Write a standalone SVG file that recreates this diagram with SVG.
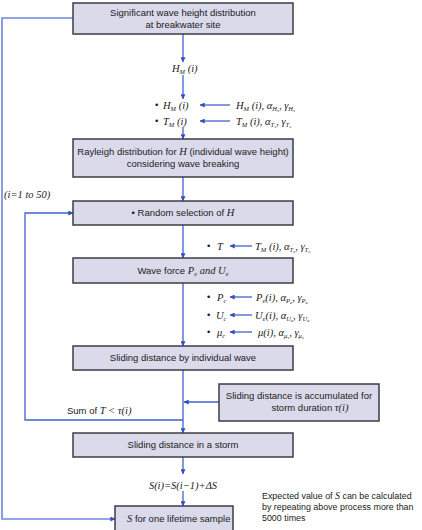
<svg xmlns="http://www.w3.org/2000/svg" width="422" height="530" viewBox="0 0 422 530">
<style>
.box{fill:#dadaeb;stroke:#3c3c44;stroke-width:1.5}
.t{font-family:"Liberation Sans",Arial,sans-serif;font-size:9.5px;fill:#1a1a1a}
.n{font-family:"Liberation Sans",Arial,sans-serif;font-size:8.9px;fill:#1a1a1a}
.m{font-family:"Liberation Serif","Times New Roman",serif;font-style:italic;font-size:10.5px;fill:#1a1a1a}
.s{font-size:6.5px}
.ss{font-size:5px}
.ln{fill:none;stroke:#3f63d0;stroke-width:1.3}
.lo{fill:none;stroke:#6d86e0;stroke-width:1.6}
</style>
<defs>
<marker id="ah" viewBox="0 0 8 8" refX="7.5" refY="4" markerWidth="5" markerHeight="5" orient="auto" markerUnits="userSpaceOnUse">
<path d="M0,0 L8,4 L0,8 z" fill="#3050c0"/>
</marker>
</defs>
<rect width="422" height="530" fill="#ffffff"/>
<g id="connectors">
<path class="ln" d="M183,34 V62" marker-end="url(#ah)"/>
<path class="ln" d="M183,75 V99" marker-end="url(#ah)"/>
<path class="ln" d="M230,105 H200" marker-end="url(#ah)"/>
<path class="ln" d="M230,121 H200" marker-end="url(#ah)"/>
<path class="ln" d="M183,127 V139" marker-end="url(#ah)"/>
<path class="ln" d="M183,177 V201" marker-end="url(#ah)"/>
<path class="ln" d="M183,225 V258" marker-end="url(#ah)"/>
<path class="ln" d="M252,246 H230" marker-end="url(#ah)"/>
<path class="ln" d="M183,283 V346" marker-end="url(#ah)"/>
<path class="ln" d="M252,297 H230" marker-end="url(#ah)"/>
<path class="ln" d="M252,315 H230" marker-end="url(#ah)"/>
<path class="ln" d="M252,332 H230" marker-end="url(#ah)"/>
<path class="ln" d="M183,370 V433" marker-end="url(#ah)"/>
<path class="ln" d="M219,402 H184" marker-end="url(#ah)"/>
<path class="ln" d="M183,420 H25 V213 H73" marker-end="url(#ah)"/>
<path class="ln" d="M183,457 V474" marker-end="url(#ah)"/>
<path class="ln" d="M183,491 V506" marker-end="url(#ah)"/>
<path class="lo" d="M73,18 H2 V519 H115" marker-end="url(#ah)"/>
</g>
<g id="n1">
<rect class="box" x="73" y="3" width="220" height="31"/>
<text class="t" x="183" y="16" text-anchor="middle">Significant wave height distribution</text>
<text class="t" x="183" y="28" text-anchor="middle">at breakwater site</text>
</g>
<g id="hm">
<text class="m" x="172" y="72">H<tspan class="s" dy="2">M</tspan><tspan dy="-2"> (i)</tspan></text>
</g>
<g id="p1">
<text class="t" x="155" y="108">•</text>
<text class="m" x="163" y="109">H<tspan class="s" dy="2">M</tspan><tspan dy="-2"> (i)</tspan></text>
<text class="m" x="236" y="109">H<tspan class="s" dy="2">M</tspan><tspan dy="-2"> (i), α</tspan><tspan class="s" dy="2">H<tspan class="ss" dy="1">s</tspan></tspan><tspan dy="-3">, γ</tspan><tspan class="s" dy="2">H<tspan class="ss" dy="1">s</tspan></tspan></text>
</g>
<g id="p2">
<text class="t" x="155" y="124">•</text>
<text class="m" x="163" y="125">T<tspan class="s" dy="2">M</tspan><tspan dy="-2"> (i)</tspan></text>
<text class="m" x="236" y="125">T<tspan class="s" dy="2">M</tspan><tspan dy="-2"> (i), α</tspan><tspan class="s" dy="2">T<tspan class="ss" dy="1">s</tspan></tspan><tspan dy="-3">, γ</tspan><tspan class="s" dy="2">T<tspan class="ss" dy="1">s</tspan></tspan></text>
</g>
<g id="n2">
<rect class="box" x="73" y="139" width="220" height="38"/>
<text class="t" x="183" y="155" text-anchor="middle">Rayleigh distribution for <tspan class="m">H</tspan>  (individual wave height)</text>
<text class="t" x="183" y="167" text-anchor="middle">considering wave breaking</text>
</g>
<g id="loop-label">
<text class="m" x="4" y="198">(i=1 <tspan>to</tspan> 50)</text>
</g>
<g id="n3">
<rect class="box" x="73" y="201" width="220" height="24"/>
<text class="t" x="183" y="216" text-anchor="middle">•  Random selection of  <tspan class="m">H</tspan></text>
</g>
<g id="p3">
<text class="t" x="207" y="249">•</text>
<text class="m" x="217" y="250">T</text>
<text class="m" x="255" y="250">T<tspan class="s" dy="2">M</tspan><tspan dy="-2"> (i), α</tspan><tspan class="s" dy="2">T<tspan class="ss" dy="1">s</tspan></tspan><tspan dy="-3">, γ</tspan><tspan class="s" dy="2">T<tspan class="ss" dy="1">s</tspan></tspan></text>
</g>
<g id="n4">
<rect class="box" x="73" y="258" width="220" height="25"/>
<text class="t" x="183" y="274" text-anchor="middle">Wave force  <tspan class="m">P<tspan class="s" dy="2">e</tspan><tspan dy="-2"> and U</tspan><tspan class="s" dy="2">e</tspan></tspan></text>
</g>
<g id="p4">
<text class="t" x="207" y="300">•</text>
<text class="m" x="217" y="301">P<tspan class="s" dy="2">c</tspan></text>
<text class="m" x="256" y="301">P<tspan class="s" dy="2">e</tspan><tspan dy="-2">(i), α</tspan><tspan class="s" dy="2">P<tspan class="ss" dy="1">e</tspan></tspan><tspan dy="-3">, γ</tspan><tspan class="s" dy="2">P<tspan class="ss" dy="1">e</tspan></tspan></text>
</g>
<g id="p5">
<text class="t" x="207" y="318">•</text>
<text class="m" x="216" y="319">U<tspan class="s" dy="2">c</tspan></text>
<text class="m" x="255" y="319">U<tspan class="s" dy="2">e</tspan><tspan dy="-2">(i), α</tspan><tspan class="s" dy="2">U<tspan class="ss" dy="1">e</tspan></tspan><tspan dy="-3">, γ</tspan><tspan class="s" dy="2">U<tspan class="ss" dy="1">e</tspan></tspan></text>
</g>
<g id="p6">
<text class="t" x="207" y="335">•</text>
<text class="m" x="217" y="336">μ<tspan class="s" dy="2">c</tspan></text>
<text class="m" x="258" y="336">μ(i), α<tspan class="s" dy="2">μ<tspan class="ss" dy="1">s</tspan></tspan><tspan dy="-3">, γ</tspan><tspan class="s" dy="2">μ<tspan class="ss" dy="1">s</tspan></tspan></text>
</g>
<g id="n5">
<rect class="box" x="73" y="346" width="220" height="24"/>
<text class="t" x="183" y="361" text-anchor="middle">Sliding distance by individual wave</text>
</g>
<g id="n6">
<rect class="box" x="219" y="384" width="160" height="37"/>
<text class="t" x="299" y="399" text-anchor="middle">Sliding distance is accumulated for</text>
<text class="t" x="310" y="411" text-anchor="middle">storm duration <tspan class="m">τ(i)</tspan></text>
</g>
<g id="sum-label">
<text class="t" x="67" y="414">Sum of  <tspan class="m">T &lt; τ(i)</tspan></text>
</g>
<g id="n7">
<rect class="box" x="73" y="433" width="220" height="24"/>
<text class="t" x="183" y="448" text-anchor="middle">Sliding distance in a storm</text>
</g>
<g id="eq">
<text class="m" x="183" y="489" text-anchor="middle">S(i)=S(i−1)+ΔS</text>
</g>
<g id="n8">
<rect class="box" x="115" y="506" width="118" height="30"/>
<text class="t" x="127" y="522"><tspan class="m">S</tspan> for one lifetime sample</text>
</g>
<g id="note">
<text class="n" x="262" y="499">Expected value of <tspan class="m" style="font-size:10px">S</tspan> can be calculated</text>
<text class="n" x="262" y="510">by repeating above process more than</text>
<text class="n" x="262" y="521">5000 times</text>
</g>
</svg>
